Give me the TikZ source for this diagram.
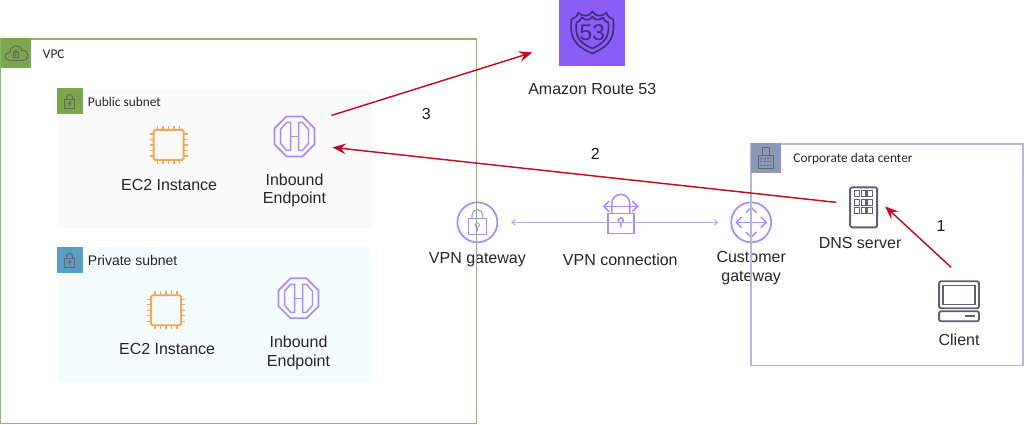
\documentclass[tikz,border=0pt]{standalone}
\usepackage{fontspec}
\setmainfont{Liberation Sans}
\newfontfamily\tagfont{Carlito}
\usetikzlibrary{arrows.meta}
\definecolor{vpcgreen}{HTML}{8DB56C}
\definecolor{taggreen}{HTML}{7BA64B}
\definecolor{tagblue}{HTML}{5A9EC3}
\definecolor{corpline}{HTML}{AEBCD6}
\definecolor{tagslate}{HTML}{8899BA}
\definecolor{iconpurple}{HTML}{A88DF2}
\definecolor{chiporange}{HTML}{EDAA50}
\definecolor{servergrey}{HTML}{5E626C}
\definecolor{arrowred}{HTML}{C10E20}
\definecolor{routepurple}{HTML}{8C5CF6}
\definecolor{routedark}{HTML}{3C2C78}
\definecolor{linklilac}{HTML}{AAB2DA}
\begin{document}
\begin{tikzpicture}
			[x=0.75pt,y=-0.75pt,
			caption/.style={text=black!85,font=\fontsize{12}{14.2}\selectfont,align=center,inner sep=0pt},
			taglabel/.style={text=black!85,font=\tagfont\fontsize{10}{12}\selectfont,anchor=west,inner sep=0pt},
			numlabel/.style={text=black!90,font=\fontsize{12}{14}\selectfont,inner sep=0pt},
			tagbox/.style={inner sep=0pt,minimum size=#1*0.75pt},
			roundicon/.style={circle,draw=iconpurple,line width=1.3pt,inner sep=0pt,minimum size=30pt},
			redarrow/.style={draw=arrowred,line width=1.1pt,-{Stealth[length=10pt,width=8pt,inset=3.5pt]}},
			chip/.pic={
				\draw[chiporange,line width=1.4pt,rounded corners=1pt] (-15,-15) rectangle (15,15);
				\foreach \i in {-11,-5.5,0,5.5,11}
				{
					\draw[chiporange,line width=1pt] (\i,-19) -- (\i,-15) (\i,15) -- (\i,19) (-19,\i) -- (-15,\i) (15,\i) -- (19,\i);
				}
			},
			endpoint/.pic={
				\draw[iconpurple,line width=1.3pt] (-8,-20) -- (8,-20) -- (20,-8) -- (20,8) -- (8,20) -- (-8,20) -- (-20,8) -- (-20,-8) -- cycle;
				\draw[iconpurple,line width=1.1pt] (-4,-14) -- (-8,-14) -- (-14,-7) -- (-14,7) -- (-8,14) -- (-4,14) -- cycle;
				\draw[iconpurple,line width=1.1pt] (4,-14) -- (8,-14) -- (14,-7) -- (14,7) -- (8,14) -- (4,14) -- cycle;
				\draw[iconpurple,line width=0.7pt] (-4,0) -- (4,0);
			},
			padlock/.pic={
				\draw[line width=0.8pt] (-5,-2) rectangle (5,7);
				\draw[line width=0.8pt] (-3,-2) -- (-3,-4) arc (180:360:3) -- (3,-2);
				\draw[line width=0.6pt] (0,1.5) circle (1.2) (0,2.7) -- (0,5);
			}]
			% subnets go under everything
			\fill[black!2] (56,90) rectangle (372,228);
			\fill[cyan!4] (56,247) rectangle (370,383);
			\node[tagbox=26,fill=taggreen,name=pubtag] at (69,101) {};
			\node[tagbox=26,fill=tagblue,name=privtag] at (69,260) {};
			\path (69,101) pic[draw=black!60] {padlock};
			\path (69,260) pic[draw=black!60] {padlock};
			\node[taglabel,name=publabel] at (87,101) {Public subnet};
			\node[taglabel,name=privlabel,font=\fontsize{10.5}{12}\selectfont] at (87,260) {Private subnet};
			\path (168,144.5) pic {chip};
			\path (165.5,310) pic {chip};
			\path (294,136) pic {endpoint};
			\path (298,298) pic {endpoint};
			\node[caption,name=ec2a] at (168.5,185) {EC2 Instance};
			\node[caption,name=ec2b] at (166.5,349) {EC2 Instance};
			\node[caption,name=epa] at (294,190) {Inbound\\Endpoint};
			\node[caption,name=epb] at (298,353) {Inbound\\Endpoint};
			% route 53
			\node[tagbox=66,fill=routepurple,name=route] at (592,32.5) {};
			\begin{scope}[shift={(592,32)},routedark,line width=1.2pt,line join=round]
				\draw (0,-21) .. controls (-3,-16) and (-9,-15) .. (-14,-20) .. controls (-15,-16) and (-18,-14) .. (-21,-13) .. controls (-22,2) and (-21,12) .. (0,21) .. controls (21,12) and (22,2) .. (21,-13) .. controls (18,-14) and (15,-16) .. (14,-20) .. controls (9,-15) and (3,-16) .. (0,-21) -- cycle;
				\draw[scale=0.76] (0,-21) .. controls (-3,-16) and (-9,-15) .. (-14,-20) .. controls (-15,-16) and (-18,-14) .. (-21,-13) .. controls (-22,2) and (-21,12) .. (0,21) .. controls (21,12) and (22,2) .. (21,-13) .. controls (18,-14) and (15,-16) .. (14,-20) .. controls (9,-15) and (3,-16) .. (0,-21) -- cycle;
			\end{scope}
			\node[text=routedark,font=\fontsize{17}{17}\selectfont,inner sep=0pt,name=routenum] at (592,32) {53};
			\node[caption,name=routelabel] at (592,89) {Amazon Route 53};
			% vpn part
			\node[roundicon,name=vpngw] at (477,222) {};
			\path (477,222) pic[draw=iconpurple,scale=1.8] {padlock};
			\node[roundicon,name=custgw] at (751,222) {};
			\draw[iconpurple,line width=1.1pt,<->,>={Straight Barb[length=4pt,width=8pt]}] (735,222) -- (767,222);
			\draw[iconpurple,line width=1.1pt,<->,>={Straight Barb[length=4pt,width=8pt]}] (751,206) -- (751,238);
			\begin{scope}[shift={(620.5,222)},iconpurple,line width=1.2pt]
				\draw (-13,-9) rectangle (13,11);
				\draw (-9,-9) -- (-9,-19) arc (180:360:9) -- (9,-9);
				\draw (0,-2) circle (2.5) (0,0.5) -- (0,5);
				\draw[<->,>={Straight Barb[length=4pt,width=8pt]}] (-18,-16) -- (18,-16);
			\end{scope}
			\draw[linklilac,line width=0.8pt,<->,>={Straight Barb[length=2.5pt,width=4.5pt]},shorten <=9.75pt,shorten >=9pt] (vpngw) -- (custgw);
			\node[caption,name=vpngwlabel] at (477,259) {VPN gateway};
			\node[caption,name=vpnlabel] at (620,259) {VPN connection};
			\node[caption,name=custlabel] at (751,268) {Customer\\gateway};
			% vpc and corporate frames
			\draw[vpcgreen,line width=1.1pt] (0,38.5) rectangle (476,423.5);
			\node[tagbox=30,fill=taggreen,name=vpctag] at (15,53) {};
			\draw[black!60,line width=0.7pt] (9,60) .. controls (3,60) and (3,52) .. (9,52) .. controls (10,44) and (19,43) .. (21,50) .. controls (29,49) and (29,60) .. (22,60) -- cycle;
			\path (15,53.5) pic[draw=black!60,scale=0.5] {padlock};
			\node[taglabel,name=vpclabel] at (42,54) {VPC};
			\draw[corpline,line width=1.1pt] (751,143.5) rectangle (1023,365);
			\node[tagbox=30,fill=tagslate,name=corptag] at (766,158) {};
			\draw[black!60,line width=0.7pt] (758,168) rectangle (773,155) (762,155) -- (762,147) -- (769,147) -- (769,155);
			\foreach \i in {158,161.5,165}
			{
				\draw[black!60,line width=0.7pt,dash pattern=on 1.5pt off 1pt] (760,\i) -- (771,\i);
			}
			\node[taglabel,name=corplabel] at (793,159) {Corporate data center};
			% dns server and client
			\node[draw=servergrey,line width=1.4pt,rounded corners=1.5pt,inner sep=0pt,minimum width=20.25pt,minimum height=30pt,name=dns] at (863.5,207) {};
			\foreach \row in {193.5,202,210}
			{
				\foreach \col in {857,863.5,870}
				{
					\draw[servergrey,line width=0.9pt] (\col-2.3,\row-3) rectangle (\col+2.3,\row+3);
				}
			}
			\node[caption,name=dnslabel] at (860,243) {DNS server};
			\node[draw=servergrey,line width=1.4pt,rounded corners=1.5pt,inner sep=0pt,minimum width=30pt,minimum height=20.25pt,name=client] at (959,294.5) {};
			\draw[servergrey,line width=0.9pt] (943,285) rectangle (975,304);
			\draw[servergrey,line width=1.4pt,rounded corners=1.5pt] (939,311) rectangle (979,321);
			\draw[servergrey,line width=1.8pt] (965,316) -- (975,316);
			\node[caption,name=clientlabel] at (959,340) {Client};
			% request path
			\coordinate (epout) at (331,115);
			\coordinate (routein) at (532,52);
			\coordinate (epin) at (332,147);
			\coordinate (dnsout) at (836,202);
			\coordinate (dnsin) at (885,206);
			\coordinate (clientout) at (951,267);
			\draw[redarrow] (clientout) -- (dnsin);
			\draw[redarrow] (dnsout) -- (epin);
			\draw[redarrow] (epout) -- (routein);
			\foreach \i/\x/\y in {1/941/226,2/595/154,3/426/114}
			{
				\node[numlabel,name=num\i] at (\x,\y) {\i};
			}
			\useasboundingbox (0,0) rectangle (1024,424);
		\end{tikzpicture}
\end{document}
